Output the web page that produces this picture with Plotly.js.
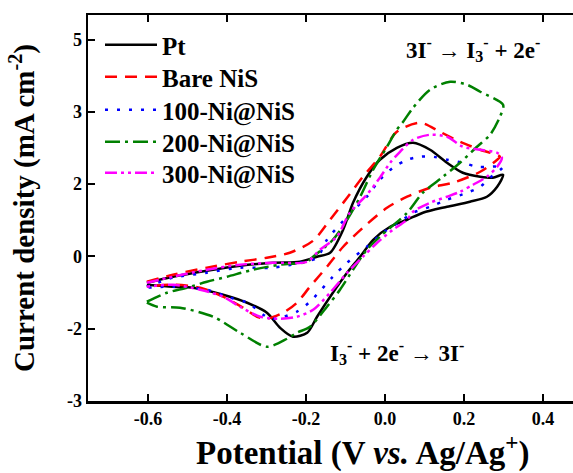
<!DOCTYPE html>
<html>
<head>
<meta charset="utf-8">
<script src="https://cdn.plot.ly/plotly-3.0.1.min.js"></script>
<style>html,body{margin:0;padding:0;background:#fff;overflow:hidden}</style>
</head>
<body>
<div id="chart" style="width:573px;height:473px"></div>
<script>
// Potential (V vs. Ag/Ag+) and current density (mA cm^-2), forward then reverse sweep
const ptV = [-0.603,-0.537,-0.451,-0.367,-0.284,-0.215,-0.172,-0.139,-0.106,-0.081,-0.046,-0.013,0.030,0.071,0.114,0.157,0.197,0.241,0.273,0.299,
             0.284,0.258,0.215,0.157,0.096,0.056,0.013,-0.030,-0.063,-0.096,-0.132,-0.172,-0.197,-0.233,-0.266,-0.299,-0.349,-0.410,-0.486,-0.537,-0.603];
const ptI = [-0.546,-0.421,-0.297,-0.193,-0.131,-0.110,-0.006,0.077,0.554,1.114,1.654,2.006,2.255,2.359,2.214,1.944,1.737,1.654,1.633,1.695,
             1.446,1.239,1.135,1.031,0.907,0.761,0.616,0.346,-0.006,-0.338,-0.753,-1.251,-1.583,-1.666,-1.479,-1.168,-0.961,-0.795,-0.649,-0.629,-0.587];

const nisV = [-0.603,-0.537,-0.451,-0.367,-0.299,-0.241,-0.182,-0.139,-0.096,-0.056,-0.013,0.030,0.089,0.139,0.190,0.241,0.291,
              0.284,0.241,0.172,0.114,0.056,0.005,-0.056,-0.106,-0.147,-0.190,-0.223,-0.258,-0.299,-0.324,-0.359,-0.410,-0.468,-0.537,-0.603];
const nisI = [-0.525,-0.380,-0.234,-0.110,-0.027,0.077,0.326,0.761,1.218,1.654,2.068,2.587,2.774,2.587,2.379,2.214,2.068,
              2.006,1.757,1.529,1.425,1.239,1.010,0.595,0.201,-0.214,-0.629,-0.961,-1.168,-1.292,-1.251,-1.064,-0.836,-0.649,-0.587,-0.629];

const ni100V = [-0.603,-0.537,-0.451,-0.367,-0.284,-0.215,-0.172,-0.147,-0.096,-0.046,-0.013,0.020,0.056,0.089,0.122,0.157,0.197,0.233,0.266,0.299,
                0.266,0.241,0.208,0.157,0.114,0.071,0.056,-0.005,-0.046,-0.096,-0.132,-0.190,-0.223,-0.266,-0.291,-0.349,-0.392,-0.451,-0.537,-0.603];
const ni100I = [-0.629,-0.442,-0.338,-0.234,-0.234,-0.131,-0.027,0.346,0.824,1.239,1.591,1.840,2.006,2.068,2.068,2.006,1.944,1.861,1.861,1.861,
                1.633,1.446,1.322,1.176,1.031,0.907,0.824,0.492,0.201,-0.131,-0.421,-0.940,-1.147,-1.272,-1.292,-0.961,-0.857,-0.691,-0.629,-0.649];

const ni200V = [-0.603,-0.552,-0.501,-0.451,-0.400,-0.334,-0.266,-0.197,-0.182,-0.132,-0.096,-0.063,-0.030,0.005,0.030,0.046,0.071,0.114,0.165,0.208,0.241,0.299,
                0.291,0.266,0.233,0.190,0.147,0.096,0.056,-0.013,-0.046,-0.081,-0.114,-0.147,-0.190,-0.223,-0.248,-0.299,-0.367,-0.435,-0.519,-0.577,-0.603];
const ni200I = [-0.940,-0.753,-0.649,-0.525,-0.421,-0.276,-0.172,-0.110,-0.006,0.346,0.761,1.239,1.799,2.276,2.629,2.795,3.085,3.459,3.625,3.562,3.417,3.147,
                2.898,2.525,2.276,1.944,1.654,1.322,0.907,0.409,0.139,-0.276,-0.691,-1.044,-1.459,-1.583,-1.708,-1.874,-1.583,-1.251,-1.064,-1.044,-0.961];

const ni300V = [-0.603,-0.537,-0.451,-0.367,-0.284,-0.197,-0.165,-0.122,-0.089,-0.046,-0.013,0.013,0.038,0.071,0.114,0.157,0.197,0.241,0.284,0.296,
                0.284,0.258,0.223,0.190,0.157,0.114,0.071,0.056,0.020,-0.020,-0.056,-0.096,-0.139,-0.182,-0.223,-0.266,-0.316,-0.367,-0.410,-0.468,-0.537,-0.603];
const ni300I = [-0.546,-0.421,-0.276,-0.172,-0.131,-0.110,0.139,0.409,0.907,1.280,1.633,1.944,2.172,2.421,2.525,2.483,2.276,2.214,2.151,2.048,
                1.861,1.654,1.488,1.342,1.239,1.114,0.927,0.761,0.554,0.284,-0.006,-0.338,-0.753,-1.106,-1.251,-1.292,-1.251,-1.044,-0.836,-0.691,-0.587,-0.629];

const seriesNames = ["Pt", "Bare NiS", "100-Ni@NiS", "200-Ni@NiS", "300-Ni@NiS"];
const xTickVals = [-0.6, -0.4, -0.2, 0.0, 0.2, 0.4];
const xTickText = ["-0.6", "-0.4", "-0.2", "0.0", "0.2", "0.4"];
const yTickVals = [-3, -1.5, 0, 1.5, 3, 4.5];
const yTickText = ["-3", "-2", "0", "2", "3", "5"];

const serif = "Liberation Serif, Times New Roman, serif";
const styles = [
  {color: "#000000", dash: "solid"},
  {color: "#ff0000", dash: "12px,8px"},
  {color: "#0000ff", dash: "3px,9px"},
  {color: "#008000", dash: "15px,5px,3px,5px"},
  {color: "#ff00ff", dash: "12px,4px,3px,4px,3px,4px"}
];
const xs = [ptV, nisV, ni100V, ni200V, ni300V];
const ys = [ptI, nisI, ni100I, ni200I, ni300I];
const legendIds = ["legend", "legend2", "legend3", "legend4", "legend5"];
const legendRowsPx = [45, 77, 110, 142, 173];

const traces = xs.map((x, i) => ({
  x: x, y: ys[i], name: seriesNames[i], type: "scatter", mode: "lines", legend: legendIds[i],
  line: {color: styles[i].color, dash: styles[i].dash, width: 2.5, shape: "spline", smoothing: 0.8}
}));

const layout = {
  width: 573, height: 473,
  margin: {l: 88, r: 0, t: 15, b: 72},
  paper_bgcolor: "#ffffff", plot_bgcolor: "#ffffff",
  font: {family: serif, color: "#000", size: 18, weight: "bold"},
  showlegend: true,
  xaxis: {range: [-0.752, 0.476], showgrid: false, zeroline: false,
          showline: true, linecolor: "#000", linewidth: 2.5, mirror: "ticks",
          ticks: "inside", ticklen: 7, tickwidth: 2, tickcolor: "#000",
          tickvals: xTickVals, ticktext: xTickText,
          tickfont: {family: serif, size: 18, color: "#000", weight: "bold"}},
  yaxis: {range: [-3.0, 5.01], showgrid: false, zeroline: false,
          showline: true, linecolor: "#000", linewidth: 2.5,
          ticks: "inside", ticklen: 7, tickwidth: 2, tickcolor: "#000",
          tickvals: yTickVals, ticktext: yTickText,
          tickfont: {family: serif, size: 18, color: "#000", weight: "bold"},
          title: {text: "Current density (mA cm<sup>-2</sup>)", standoff: 24,
                  font: {family: serif, size: 29, color: "#000", weight: "bold"}}},
  annotations: [
    {text: "Potential (V <i>vs.</i> Ag/Ag<sup>+</sup>)", xref: "paper", yref: "paper",
     x: 0.567, y: -0.127, xanchor: "center", yanchor: "middle", showarrow: false,
     font: {family: serif, size: 33, color: "#000", weight: "bold"}},
    {text: "3I<sup>-</sup> → I<sub>3</sub><sup>-</sup> + 2e<sup>-</sup>", xref: "paper", yref: "paper",
     x: (473 - 88) / 485, y: (401 - 50) / 386, xanchor: "center", yanchor: "middle", showarrow: false,
     font: {family: serif, size: 23, color: "#000", weight: "bold"}},
    {text: "I<sub>3</sub><sup>-</sup> + 2e<sup>-</sup> → 3I<sup>-</sup>", xref: "paper", yref: "paper",
     x: (397 - 88) / 485, y: (401 - 352) / 386, xanchor: "center", yanchor: "middle", showarrow: false,
     font: {family: serif, size: 23, color: "#000", weight: "bold"}}
  ]
};
legendIds.forEach((id, i) => {
  layout[id] = {x: (100 - 88) / 485, y: (401 - legendRowsPx[i]) / 386, xanchor: "left", yanchor: "middle",
                bgcolor: "rgba(0,0,0,0)", borderwidth: 0, itemwidth: 52,
                font: {family: serif, size: 25, color: "#000", weight: "bold"}};
});

Plotly.newPlot("chart", traces, layout, {staticPlot: true, displayModeBar: false});
</script>
</body>
</html>
